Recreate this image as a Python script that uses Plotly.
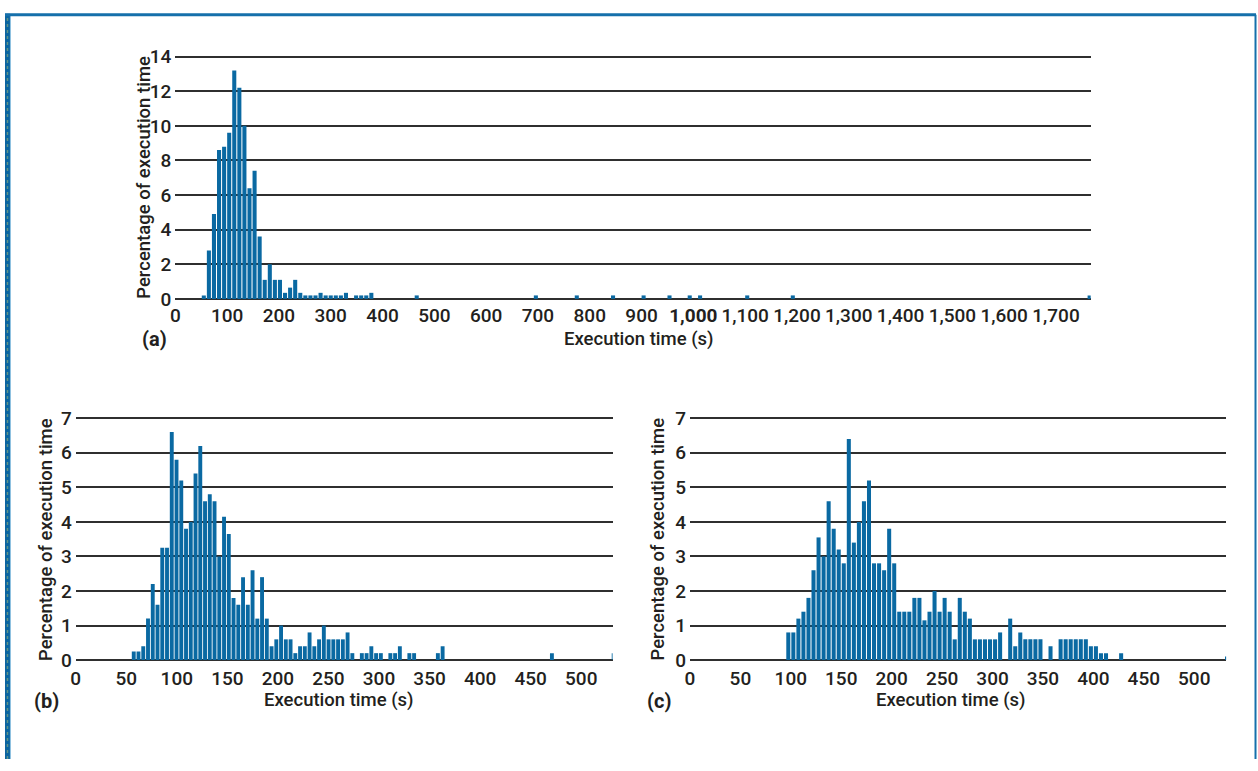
import plotly.graph_objects as go

W, H = 1258, 771

# ---- (a) full range run: contiguous bins, then a sparse long tail ----
A_START, A_STEP = 55, 9.8
a_pct = [0.2, 2.8, 4.9, 8.6, 8.8, 9.6, 13.2, 12.2, 10.0, 6.4, 7.4, 3.6,
         1.1, 2.0, 1.1, 1.1, 0.35, 0.65, 1.1, 0.35, 0.2, 0.2, 0.2, 0.35,
         0.2, 0.2, 0.2, 0.2, 0.35, 0.0, 0.2, 0.2, 0.2, 0.35]
a_tail_time = [466, 696, 775, 845, 904, 954, 993, 1013, 1104, 1192, 1765]
a_tail_pct = [0.2, 0.2, 0.2, 0.2, 0.2, 0.2, 0.2, 0.2, 0.2, 0.2, 0.2]
a_xticks = [0, 100, 200, 300, 400, 500, 600, 700, 800, 900, 1000,
            1100, 1200, 1300, 1400, 1500, 1600, 1700]
a_xlabels = ["0", "100", "200", "300", "400", "500", "600", "700", "800",
             "900", "<b>1,000</b>", "1,100", "1,200", "1,300", "1,400",
             "1,500", "1,600", "1,700"]
a_yticks = [0, 2, 4, 6, 8, 10, 12, 14]

# ---- (b) ----
B_START, B_STEP = 57.4, 4.7
b_pct = [0.25, 0.25, 0.4, 1.2, 2.2, 1.6, 3.25, 3.25, 6.6, 5.8, 5.2, 3.8,
         4.0, 5.4, 6.2, 4.6, 4.8, 4.6, 3.0, 4.15, 3.65, 1.8, 1.6, 2.4,
         1.6, 2.6, 1.2, 2.4, 1.2, 0.4, 0.6, 1.0, 0.6, 0.6, 0.2, 0.4,
         0.4, 0.8, 0.4, 0.6, 1.0, 0.6, 0.6, 0.6, 0.6, 0.8, 0.2, 0.0,
         0.2, 0.2, 0.4, 0.2, 0.2, 0.0, 0.2, 0.2, 0.4, 0.0, 0.2, 0.2,
         0.0, 0.0, 0.0, 0.0, 0.2, 0.4, 0.0, 0.0, 0.0, 0.0, 0.0, 0.0,
         0.0, 0.0, 0.0, 0.0, 0.0, 0.0, 0.0, 0.0, 0.0, 0.0, 0.0, 0.0,
         0.0, 0.0, 0.0, 0.0, 0.2, 0.0, 0.0, 0.0, 0.0, 0.0, 0.0, 0.0,
         0.0, 0.0, 0.0, 0.0, 0.0, 0.2]

# ---- (c) ----
C_START, C_STEP = 97.5, 5.0
c_pct = [0.8, 0.8, 1.2, 1.4, 1.8, 2.6, 3.55, 3.0, 4.6, 3.8, 3.2, 2.8,
         6.4, 3.4, 4.0, 4.6, 5.2, 2.8, 2.8, 2.6, 3.8, 2.8, 1.4, 1.4,
         1.4, 1.8, 1.8, 1.15, 1.4, 2.0, 1.4, 1.8, 1.4, 0.6, 1.8, 1.4,
         1.2, 0.6, 0.6, 0.6, 0.6, 0.6, 0.8, 0.0, 1.2, 0.4, 0.8, 0.6,
         0.6, 0.6, 0.6, 0.0, 0.4, 0.0, 0.6, 0.6, 0.6, 0.6, 0.6, 0.6,
         0.4, 0.4, 0.2, 0.2, 0.0, 0.0, 0.2, 0.0, 0.0, 0.0, 0.0, 0.0,
         0.0, 0.0, 0.0, 0.0, 0.0, 0.0, 0.0, 0.0, 0.0, 0.0, 0.0, 0.0,
         0.0, 0.0, 0.0, 0.1]

bc_xticks = [0, 50, 100, 150, 200, 250, 300, 350, 400, 450, 500]
bc_yticks = [0, 1, 2, 3, 4, 5, 6, 7]

BAR = "#0a69a2"
GRID = "#2f2f2f"
INK = "#231f20"
FONT = "Roboto, Liberation Sans, Arial, sans-serif"


def centers(start, step, n):
    return [start + step * i for i in range(n)]


def px_x(px):
    return px / W


def px_y(py):
    return 1 - py / H


fig = go.Figure()

fig.add_trace(go.Bar(x=centers(A_START, A_STEP, len(a_pct)) + a_tail_time,
                     y=a_pct + a_tail_pct, width=A_STEP * 0.8,
                     marker=dict(color=BAR, line=dict(width=0)),
                     xaxis="x", yaxis="y", showlegend=False))
fig.add_trace(go.Bar(x=centers(B_START, B_STEP, len(b_pct)), y=b_pct,
                     width=B_STEP * 0.82,
                     marker=dict(color=BAR, line=dict(width=0)),
                     xaxis="x2", yaxis="y2", showlegend=False))
fig.add_trace(go.Bar(x=centers(C_START, C_STEP, len(c_pct)), y=c_pct,
                     width=C_STEP * 0.8,
                     marker=dict(color=BAR, line=dict(width=0)),
                     xaxis="x3", yaxis="y3", showlegend=False))

tickfont = dict(family=FONT, size=19, color=INK, weight=500)


def xaxis(domain, rng, ticks, labels=None, anchor="y", standoff=2):
    d = dict(domain=domain, range=rng, tickmode="array", tickvals=ticks,
             showgrid=False, zeroline=False, showline=False, ticks="",
             tickfont=tickfont, anchor=anchor, fixedrange=True,
             tickangle=0, ticklabelstandoff=standoff)
    if labels is not None:
        d["ticktext"] = labels
    return d


def yaxis(zero_px, unit_px, top, ticks, anchor="x"):
    # a little headroom above the top tick keeps its gridline visible
    rng_top = top + 2.0 / unit_px
    dom = [px_y(zero_px), px_y(zero_px - rng_top * unit_px)]
    return dict(domain=dom, range=[0, rng_top], tickmode="array",
                tickvals=ticks, showgrid=True, gridcolor=GRID, gridwidth=1.6,
                zeroline=True, zerolinecolor=GRID, zerolinewidth=1.6,
                showline=False, ticks="", tickfont=tickfont, anchor=anchor,
                fixedrange=True, ticklabelstandoff=3)


A_UNIT = (298 - 49) / 14.0
BC_UNIT = (669.3 - 420.7) / 7.0

fig.update_layout(
    width=W, height=H, margin=dict(l=0, r=0, t=0, b=0),
    paper_bgcolor="white", plot_bgcolor="white", bargap=0.2,
    xaxis=xaxis([px_x(171), px_x(1090)], [0, 1767], a_xticks, a_xlabels,
                "y", 3),
    yaxis=yaxis(298, A_UNIT, 14, a_yticks, "x"),
    xaxis2=xaxis([px_x(71), px_x(610)], [0, 531], bc_xticks, None, "y2", 5),
    yaxis2=yaxis(669.3, BC_UNIT, 7, bc_yticks, "x2"),
    xaxis3=xaxis([px_x(687.7), px_x(1226)], [0, 531.6], bc_xticks, None,
                 "y3", 5),
    yaxis3=yaxis(669.3, BC_UNIT, 7, bc_yticks, "x3"),
)

titlefont = dict(family=FONT, size=18.5, color=INK, weight=500)
labelfont = dict(family=FONT, size=20, color=INK, weight="bold")


def note(text, x, y, font, angle=0):
    fig.add_annotation(text=text, x=px_x(x), y=px_y(y), xref="paper",
                       yref="paper", showarrow=False, textangle=angle,
                       font=font, xanchor="center", yanchor="middle")


ytitle = "Percentage of execution time"
xtitle = "Execution time (s)"
note(ytitle, 140, 173, titlefont, -90)
note(ytitle, 41, 545, titlefont, -90)
note(ytitle, 656, 545, titlefont, -90)
note(xtitle, 637, 339, titlefont)
note(xtitle, 335, 710, titlefont)
note(xtitle, 950, 710, titlefont)
note("(a)", 150, 339, labelfont)
note("(b)", 42, 711, labelfont)
note("(c)", 657, 711, labelfont)

# page frame
FRAME = "#1570ab"
fig.add_shape(type="rect", xref="paper", yref="paper", x0=0, x1=px_x(5),
              y0=0, y1=px_y(5), fillcolor="#0b64a0", line=dict(width=0))
fig.add_shape(type="line", xref="paper", yref="paper", x0=px_x(2.5),
              x1=px_x(2.5), y0=0, y1=px_y(8),
              line=dict(color="#5f9488", width=1.5, dash="dot"))
fig.add_shape(type="line", xref="paper", yref="paper", x0=px_x(5.5),
              x1=px_x(5.5), y0=0, y1=px_y(7),
              line=dict(color="#8cc0e0", width=1))
fig.add_shape(type="line", xref="paper", yref="paper", x0=0, x1=px_x(1256),
              y0=px_y(6), y1=px_y(6), line=dict(color=FRAME, width=3))
fig.add_shape(type="line", xref="paper", yref="paper", x0=px_x(1255.5),
              x1=px_x(1255.5), y0=0, y1=px_y(6),
              line=dict(color=FRAME, width=2))

fig.write_html("out.html")
